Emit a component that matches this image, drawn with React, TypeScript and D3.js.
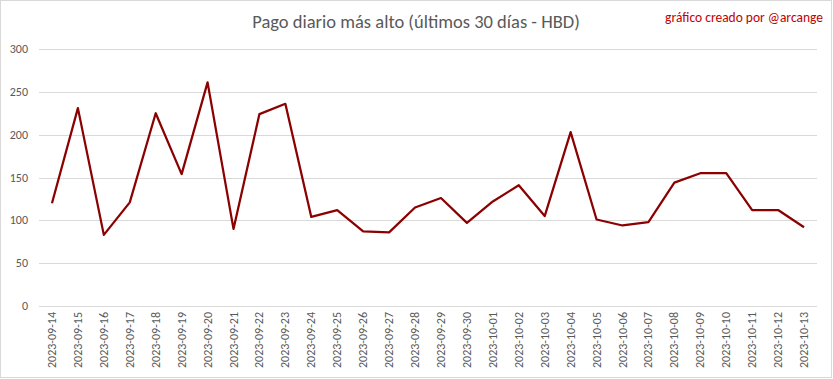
import React from "react";
import * as d3 from "d3";

const dates = [
  "2023-09-14","2023-09-15","2023-09-16","2023-09-17","2023-09-18","2023-09-19","2023-09-20",
  "2023-09-21","2023-09-22","2023-09-23","2023-09-24","2023-09-25","2023-09-26","2023-09-27",
  "2023-09-28","2023-09-29","2023-09-30","2023-10-01","2023-10-02","2023-10-03","2023-10-04",
  "2023-10-05","2023-10-06","2023-10-07","2023-10-08","2023-10-09","2023-10-10","2023-10-11",
  "2023-10-12","2023-10-13",
];
const values = [
  120, 231, 83, 121, 225, 154, 261, 90, 224, 236, 104, 112, 87, 86,
  115, 126, 97, 122, 141, 105, 203, 101, 94, 98, 144, 155, 155, 112, 112, 92,
];
const yTicks = [0, 50, 100, 150, 200, 250, 300];

const W = 833;
const H = 379;
const FONT = "Calibri, Carlito, 'Liberation Sans Narrow', 'Open Sans', sans-serif";

export default function App() {
  const x = d3.scaleBand<string>().domain(dates).range([39, 817]);
  const y = d3.scaleLinear().domain([0, 300]).range([306, 49]);
  const line = d3
    .line<number>()
    .x((_, i) => (x(dates[i]) as number) + x.bandwidth() / 2)
    .y((d) => y(d));

  return (
    <svg
      width={W}
      height={H}
      style={{ position: "absolute", left: 0, top: 0, display: "block" }}
      fontFamily={FONT}
    >
      <rect x={0.5} y={0.5} width={W - 2} height={H - 2} fill="#fff" stroke="#d9d9d9" />
      <text x={416} y={28} textAnchor="middle" fontSize={18.5} fill="#595959">
        Pago diario más alto (últimos 30 días - HBD)
      </text>
      <text x={823} y={22} textAnchor="end" fontSize={13.5} fill="#c00000">
        gráfico creado por @arcange
      </text>
      {yTicks.map((t) => (
        <g key={t}>
          <line x1={39} x2={817} y1={Math.round(y(t)) + 0.5} y2={Math.round(y(t)) + 0.5} stroke="#d9d9d9" />
          <text x={28} y={y(t) + 4} textAnchor="end" fontSize={12} fill="#595959">
            {t}
          </text>
        </g>
      ))}
      {dates.map((d) => {
        const cx = (x(d) as number) + x.bandwidth() / 2;
        return (
          <text
            key={d}
            transform={`translate(${cx + 4},312) rotate(-90)`}
            textAnchor="end"
            fontSize={12}
            fill="#595959"
          >
            {d}
          </text>
        );
      })}
      <path d={line(values) || ""} fill="none" stroke="#8b0000" strokeWidth={2.25} strokeLinejoin="round" />
    </svg>
  );
}
